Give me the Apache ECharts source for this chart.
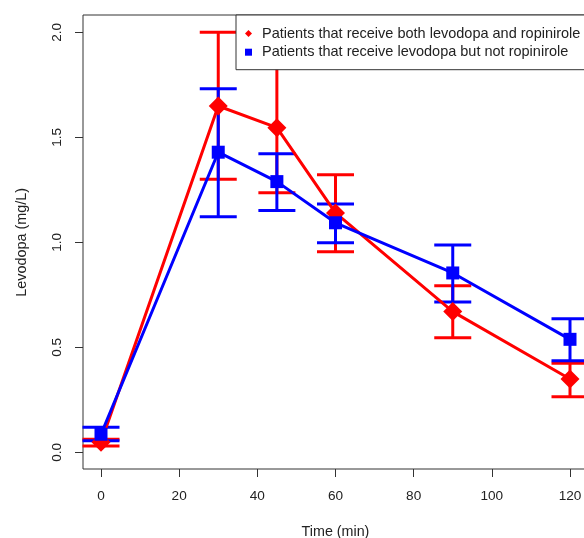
<!DOCTYPE html>
<html>
<head>
    <meta charset="UTF-8">
    <title>Levodopa</title>
    <script src="https://cdn.jsdelivr.net/npm/echarts@6/dist/echarts.min.js"></script>
    <style type="text/css">
        html, body, #main {
            height: 100%;
            width: 100%;
            margin: 0;
            padding: 0;
            background: #fff;
        }
    </style>
</head>
<body>
<div id="main"></div>
<script type="text/javascript">
    // time points (min)
    var times = [0, 30, 45, 60, 90, 120];
    // levodopa + ropinirole
    var bothMean = [0.048, 1.649, 1.546, 1.140, 0.670, 0.349];
    var bothLow = [0.030, 1.300, 1.236, 0.955, 0.546, 0.265];
    var bothHigh = [0.062, 2.000, 1.859, 1.322, 0.793, 0.424];
    // levodopa only
    var notMean = [0.086, 1.429, 1.289, 1.093, 0.854, 0.538];
    var notLow = [0.055, 1.122, 1.152, 0.998, 0.716, 0.436];
    var notHigh = [0.119, 1.731, 1.422, 1.182, 0.987, 0.636];
    var xTicks = [0, 20, 40, 60, 80, 100, 120];
    var yTicks = [0.0, 0.5, 1.0, 1.5, 2.0];

    var nameBoth = 'Patients that receive both levodopa and ropinirole';
    var nameNot = 'Patients that receive levodopa but not ropinirole';
    var font = 'Liberation Sans, Arial, sans-serif';

    // box / data area in pixels (R style: data range padded by 4%)
    var boxL = 83, boxT = 15, boxW = 506, boxH = 454;
    var dataL = 101, dataT = 32.3, dataW = 469, dataH = 420;

    function pairs(xs, ys) {
        return xs.map(function (x, i) { return [x, ys[i]]; });
    }

    function errBars(color, low, high) {
        return {
            type: 'custom',
            name: color + '-err',
            xAxisIndex: 1,
            yAxisIndex: 1,
            clip: false,
            data: times.map(function (t, i) { return [t, low[i], high[i]]; }),
            renderItem: function (params, api) {
                var lo = api.coord([api.value(0), api.value(1)]);
                var hi = api.coord([api.value(0), api.value(2)]);
                var w = 18.5;
                var st = {stroke: color, lineWidth: 3};
                return {
                    type: 'group',
                    children: [
                        {type: 'line', shape: {x1: lo[0], y1: lo[1], x2: hi[0], y2: hi[1]}, style: st},
                        {type: 'line', shape: {x1: lo[0] - w, y1: lo[1], x2: lo[0] + w, y2: lo[1]}, style: st},
                        {type: 'line', shape: {x1: hi[0] - w, y1: hi[1], x2: hi[0] + w, y2: hi[1]}, style: st}
                    ]
                };
            }
        };
    }

    var hidden = {show: false};
    var mycharts = echarts.init(document.getElementById('main'), null, {renderer: 'canvas'});
    var option = {
        animation: false,
        textStyle: {fontFamily: font},
        legend: {
            orient: 'vertical',
            left: 236,
            top: 15,
            padding: [11, 20, 10, 9],
            itemWidth: 7,
            itemHeight: 7,
            itemGap: 3.7,
            borderColor: '#333',
            borderWidth: 1,
            backgroundColor: '#fff',
            textStyle: {fontFamily: font, fontSize: 14.5, color: '#222', lineHeight: 14, padding: [0, 0, 0, 5]},
            data: [
                {name: nameBoth, icon: 'diamond', itemStyle: {color: '#ff0000'}},
                {name: nameNot, icon: 'rect', itemStyle: {color: '#0000ff'}}
            ]
        },
        grid: [
            // plot box
            {left: boxL, top: boxT, width: boxW, height: boxH, show: true, borderColor: '#333', borderWidth: 1,
                backgroundColor: 'transparent', outerBoundsMode: 'none'},
            // data region
            {left: dataL, top: dataT, width: dataW, height: dataH, outerBoundsMode: 'none'},
            // x axis ticks sit on the box bottom
            {left: dataL, top: boxT, width: dataW, height: boxH, outerBoundsMode: 'none'},
            // y axis ticks sit on the box left
            {left: boxL, top: dataT, width: boxW, height: dataH, outerBoundsMode: 'none'}
        ],
        xAxis: [
            {gridIndex: 0, type: 'value', min: -4.8, max: 124.8, show: false},
            {gridIndex: 1, type: 'value', min: xTicks[0], max: xTicks[xTicks.length - 1], show: false},
            {
                gridIndex: 2, type: 'value', min: xTicks[0], max: xTicks[xTicks.length - 1], interval: 20,
                name: 'Time (min)', nameLocation: 'middle', nameGap: 56,
                nameTextStyle: {fontFamily: font, fontSize: 14.3, color: '#222'},
                axisLine: {show: false},
                axisTick: {show: true, inside: false, length: 8, lineStyle: {color: '#333', width: 1}},
                axisLabel: {fontFamily: font, fontSize: 13.6, color: '#222', margin: 20.5},
                splitLine: hidden
            },
            {gridIndex: 3, type: 'value', show: false}
        ],
        yAxis: [
            {gridIndex: 0, type: 'value', min: -0.08, max: 2.08, show: false},
            {gridIndex: 1, type: 'value', min: yTicks[0], max: yTicks[yTicks.length - 1], show: false},
            {gridIndex: 2, type: 'value', show: false},
            {
                gridIndex: 3, type: 'value', min: yTicks[0], max: yTicks[yTicks.length - 1], interval: 0.5,
                name: 'Levodopa (mg/L)', nameLocation: 'middle', nameGap: 54,
                nameTextStyle: {fontFamily: font, fontSize: 14.4, color: '#222'},
                axisLine: {show: false},
                axisTick: {show: true, inside: false, length: 8, lineStyle: {color: '#333', width: 1}},
                axisLabel: {
                    fontFamily: font, fontSize: 13.6, color: '#222', margin: 19, rotate: 90,
                    formatter: function (v) { return v.toFixed(1); }
                },
                splitLine: hidden
            }
        ],
        series: [
            {
                name: nameBoth,
                type: 'line',
                xAxisIndex: 1,
                yAxisIndex: 1,
                data: pairs(times, bothMean),
                symbol: 'diamond',
                symbolSize: 19,
                showAllSymbol: true,
                clip: false,
                color: '#ff0000',
                lineStyle: {color: '#ff0000', width: 3},
                itemStyle: {color: '#ff0000'}
            },
            errBars('#ff0000', bothLow, bothHigh),
            {
                name: nameNot,
                type: 'line',
                xAxisIndex: 1,
                yAxisIndex: 1,
                data: pairs(times, notMean),
                symbol: 'rect',
                symbolSize: 13,
                showAllSymbol: true,
                clip: false,
                color: '#0000ff',
                lineStyle: {color: '#0000ff', width: 3},
                itemStyle: {color: '#0000ff'}
            },
            errBars('#0000ff', notLow, notHigh)
        ]
    };

    mycharts.setOption(option);
</script>
</body>
</html>
